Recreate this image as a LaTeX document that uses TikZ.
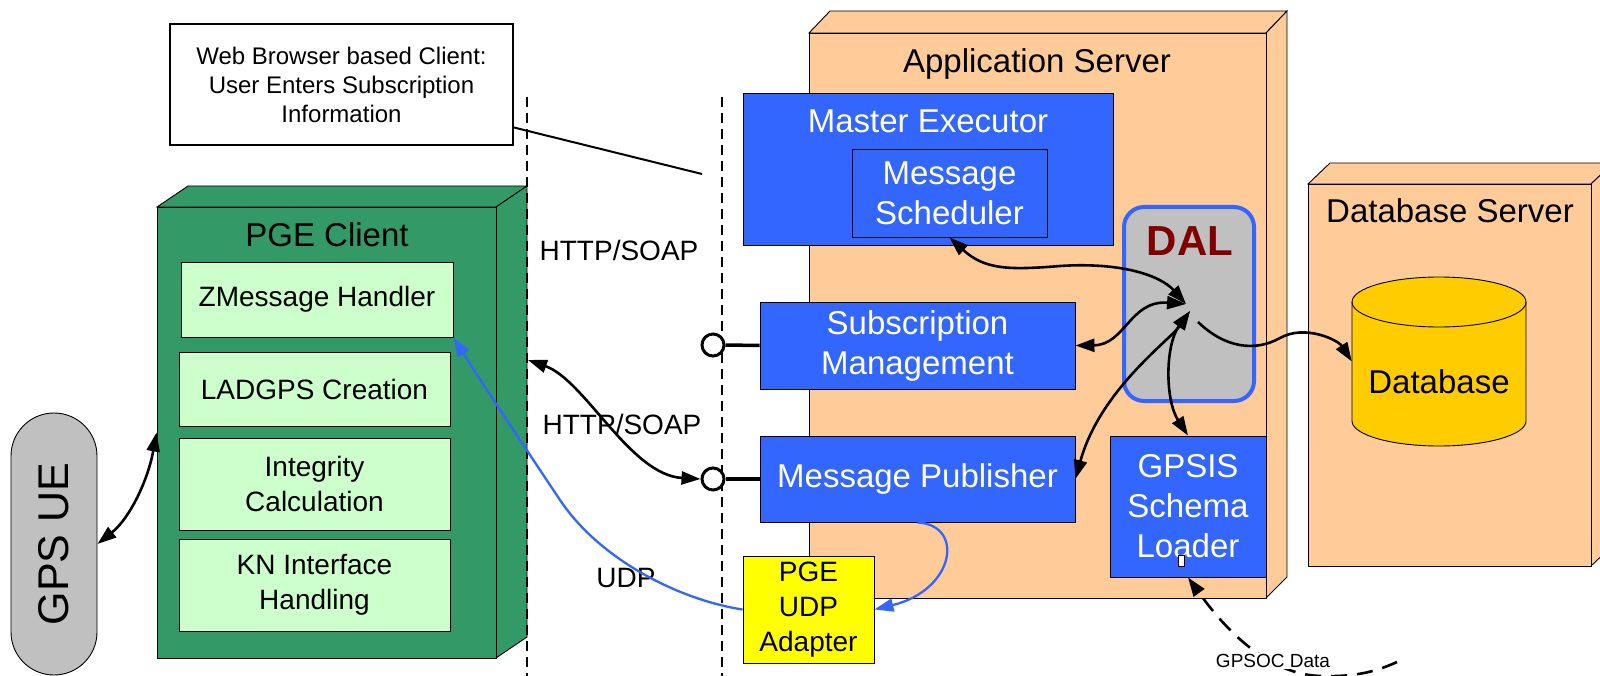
\documentclass[tikz,border=0pt]{standalone}
\usepackage{fontspec}
\setmainfont{Liberation Sans}
\usetikzlibrary{arrows.meta,calc}
\definecolor{blueBox}{HTML}{3366FF}
\definecolor{pgeGreen}{HTML}{339966}
\definecolor{lightGreen}{HTML}{CCFFCC}
\definecolor{srvOrange}{HTML}{FFCC99}
\definecolor{udpYellow}{HTML}{FFFF00}
\definecolor{dbYellow}{HTML}{FFCC00}
\definecolor{dalGray}{HTML}{C0C0C0}
\definecolor{dalRed}{HTML}{800000}
\newcommand\FS[2]{\fontsize{#1}{#2}\selectfont}
\begin{document}
\begin{tikzpicture}[x=1pt,y=-1pt,
  boxbase/.style={draw=black,line width=0.9pt,inner sep=0pt,align=center},
  bluebox/.style={boxbase,fill=blueBox,text=white,font=\FS{33}{40}},
  greenbox/.style={boxbase,fill=lightGreen,font=\FS{28}{35}},
  titletext/.style={anchor=base,font=\FS{33}{40},inner sep=0pt},
  plaintext/.style={font=\FS{28}{34},inner sep=1pt},
  conn/.style={line width=2.6pt,draw=black},
  both/.style={conn,{Triangle[length=19pt,width=13pt]}-{Triangle[length=19pt,width=13pt]}},
  fwd/.style={conn,-{Triangle[length=19pt,width=13pt]}},
  bluefwd/.style={line width=2.3pt,draw=blueBox,-{Triangle[length=19pt,width=13pt]}},
  divider/.style={line width=1.3pt,dash pattern=on 10pt off 6pt},
  lolly/.style={circle,draw=black,line width=3pt,fill=white,minimum size=22pt,inner sep=0pt},
  srvface/.style={draw=black,line width=0.9pt,fill=srvOrange},
  pgeface/.style={draw=black,line width=0.9pt,fill=pgeGreen}
]
\useasboundingbox (0,0) rectangle (1600,676);
\fill[white] (0,0) rectangle (1600,676);

% ---- Application server (3D box)
\draw[srvface] (809,33) -- (830,11) -- (1287,11) -- (1266,33) -- cycle;
\draw[srvface] (1266,33) -- (1287,11) -- (1287,577) -- (1266,598) -- cycle;
\node[srvface,inner sep=0pt,minimum width=457,minimum height=565] (appsrv) at (1037.5,315.5) {};
\node[titletext] (apptitle) at (1037,73) {Application Server};

% ---- Database server (3D box)
\draw[srvface] (1308,184) -- (1330,163) -- (1613,163) -- (1591,184) -- cycle;
\draw[srvface] (1591,184) -- (1613,163) -- (1613,545) -- (1591,566) -- cycle;
\node[srvface,inner sep=0pt,minimum width=283,minimum height=382] (dbsrv) at (1449.5,375) {};
\node[titletext] (dbtitle) at (1450,223) {Database Server};

% ---- Database cylinder
\path[draw=black,line width=0.9pt,fill=dbYellow] (1352,302) -- (1352,421)
  arc[start angle=180,end angle=0,x radius=87,y radius=25] -- (1526,302)
  arc[start angle=0,end angle=-180,x radius=87,y radius=25] -- cycle;
\draw[line width=0.9pt] (1352,302) arc[start angle=180,end angle=0,x radius=87,y radius=25];
\node[inner sep=0pt,minimum width=174,minimum height=169] (db) at (1439,361.5) {};
\node[titletext] (dbtext) at (1439,393) {Database};

% ---- PGE client (3D box)
\draw[pgeface] (157,207) -- (188,186) -- (527,186) -- (496,207) -- cycle;
\draw[pgeface] (496,207) -- (527,186) -- (527,637) -- (496,658) -- cycle;
\node[pgeface,inner sep=0pt,minimum width=339,minimum height=451] (pge) at (326.5,432.5) {};
\node[titletext] (pgetitle) at (327,247) {PGE Client};
\node[greenbox,minimum width=272,minimum height=75] (zmh) at (317,299.5) {ZMessage Handler};
\node[greenbox,minimum width=271,minimum height=74] (ladgps) at (314.5,389) {LADGPS Creation};
\node[greenbox,minimum width=271,minimum height=92] (integ) at (314.5,484) {Integrity\\Calculation};
\node[greenbox,minimum width=271,minimum height=92] (kn) at (314.5,585) {KN Interface\\Handling};

% ---- GPS UE
\node[draw=black,line width=0.9pt,fill=dalGray,rounded corners=43pt,rotate=90,
  minimum width=262,minimum height=86,inner sep=0pt,font=\FS{43}{48}] (gpsue) at (54,544) {GPS UE};

% ---- Web client box
\node[boxbase,line width=1.6pt,fill=white,font=\FS{24}{29},minimum width=343,minimum height=121] (web)
  at (341.5,84.5) {Web Browser based Client:\\User Enters Subscription\\Information};

% ---- Application server contents
\node[bluebox,minimum width=370,minimum height=152] (master) at (928,169) {};
\node[titletext,text=white] (mastertitle) at (928,133) {Master Executor};
\node[bluebox,minimum width=195,minimum height=88] (sched) at (949.5,193) {Message\\Scheduler};
\node[bluebox,minimum width=315,minimum height=87] (subm) at (917.5,345.5) {Subscription\\Management};
\node[bluebox,minimum width=315,minimum height=86] (pub) at (917.5,479) {Message Publisher};
\node[bluebox,minimum width=156,minimum height=141] (gpsis) at (1188,506.5) {GPSIS\\Schema\\Loader};
\node[draw=black,fill=white,line width=0.6pt,minimum width=6,minimum height=11,inner sep=0pt] (gpsisport) at (1181,560.5) {};
\node[draw=blueBox,line width=4pt,fill=dalGray,rounded corners=20pt,minimum width=130,minimum height=194,inner sep=0pt] (dal) at (1189,304) {};
\node[anchor=base,inner sep=0pt,font=\FS{42}{48}\bfseries,text=dalRed] (daltext) at (1190,255) {DAL};
\node[boxbase,fill=udpYellow,font=\FS{28}{35},minimum width=131,minimum height=107] (udpad) at (808.5,609.5) {PGE\\UDP\\Adapter};

% ---- dividers
\coordinate (divAtop) at (527,97);
\coordinate (divAbot) at (527,676);
\coordinate (divBtop) at (722,97);
\coordinate (divBbot) at (722,676);
\draw[divider] (divAtop) -- (divAbot);
\draw[divider] (divBtop) -- (divBbot);

% ---- lollipop interfaces
\node[lolly] (c1) at (713,345) {};
\node[lolly] (c2) at (713,479) {};
\draw[line width=3.5pt] (c1.east) -- (subm.west);
\draw[line width=3.5pt] (c2.east) -- (pub.west);

% ---- labels
\node[plaintext] (http1) at (619,250) {HTTP/SOAP};
\node[plaintext] (http2) at (622,424) {HTTP/SOAP};
\node[plaintext] (udp) at (626,578) {UDP};

% ---- web line
\coordinate (webEnd) at (702,174);
\draw[line width=2pt] (web.-14.2) -- (webEnd);

% ---- DAL hub connectors
\coordinate (hubA) at (1186,304);
\coordinate (hubB) at (1190,311);
\coordinate (hubC) at (1198,322);
\draw[both] (sched.south) .. controls (985,270) and (1010,270) .. (1060,266)
  .. controls (1120,262) and (1160,275) .. (hubA);
\draw[both] (subm.east) .. controls (1125,345) and (1130,300) .. (hubA);
\draw[both] (hubB) .. controls (1170,340) and (1100,390) .. (pub.east);
\draw[both] (hubB) .. controls (1165,345) and (1165,400) .. (gpsis.north);
\draw[fwd] (hubC) .. controls (1225,348) and (1255,352) .. (1280,338)
  .. controls (1305,324) and (1338,340) .. (db.west);

% ---- other connectors
\coordinate (pgeR) at (528,360);
\draw[both] (pgeR) .. controls (585,380) and (630,475) .. (c2.west);
\draw[both] (gpsue.south) .. controls (130,518) and (148,480) .. (pge.west);
\draw[bluefwd] (udpad.west) .. controls (680,600) and (600,560) .. (560,500)
  .. controls (530,455) and (480,380) .. (zmh.south east);
\draw[bluefwd] (pub.south) .. controls (965,525) and (955,590) .. (udpad.east);

% ---- GPSOC data
\coordinate (gpsocEnd) at (1397,662);
\draw[conn,dash pattern=on 16pt off 10pt,-{Triangle[length=19pt,width=13pt]}] (gpsocEnd)
  .. controls (1375,672) and (1355,677) .. (1320,676)
  .. controls (1260,674) and (1215,615) .. (gpsis.south);
\node[font=\FS{19}{22},fill=white,inner sep=1pt] (gpsoc) at (1273,661) {GPSOC Data};
\end{tikzpicture}
\end{document}
